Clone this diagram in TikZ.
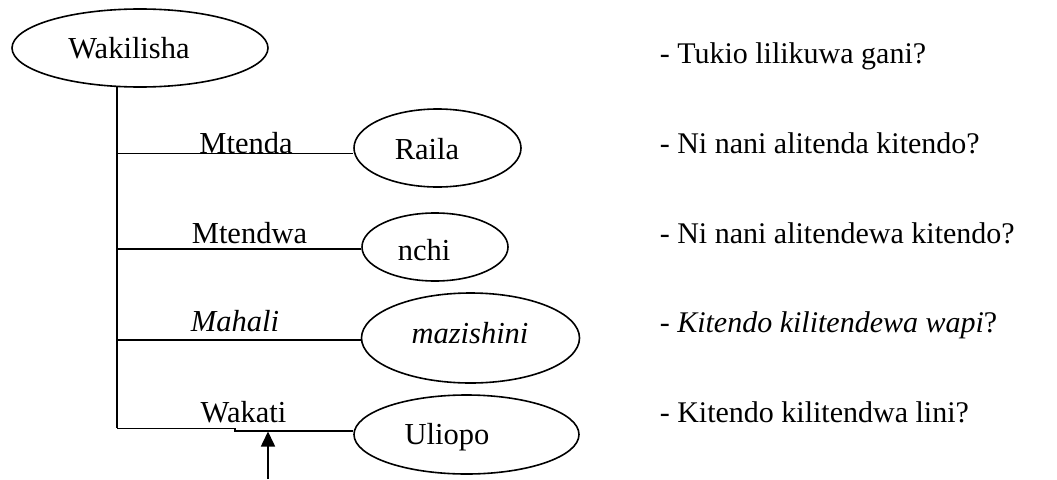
\documentclass[tikz,border=0pt]{standalone}
\usepackage{fontspec}
\setmainfont{Liberation Serif}
\usetikzlibrary{shapes.geometric,arrows.meta}
\begin{document}
\begin{tikzpicture}[x=1pt,y=-1pt,line width=1.6pt,
  ell/.style={draw,ellipse,inner sep=0pt,line width=1.6pt},
  txt/.style={anchor=base,inner sep=0pt,font=\fontsize{30.5}{36}\selectfont},
  qtxt/.style={anchor=base west,inner sep=0pt,font=\fontsize{30}{36}\selectfont},
  conn/.style={line width=1.6pt}]
\useasboundingbox (0,0) rectangle (1057,479);
% ellipses
\node[ell,minimum width=256pt,minimum height=78pt] (wak) at (140,48) {};
\node[ell,minimum width=167pt,minimum height=78pt] (raila) at (437.5,148) {};
\node[ell,minimum width=146pt,minimum height=68pt] (nchi) at (435,247) {};
\node[ell,minimum width=218pt,minimum height=90pt] (maz) at (470.5,338) {};
\node[ell,minimum width=225pt,minimum height=79pt] (uli) at (466.5,434.5) {};
% ellipse texts
\node[txt] (twak) at (129,58) {Wakilisha};
\node[txt] (traila) at (427,159) {Raila};
\node[txt] (tnchi) at (424,260) {nchi};
\node[txt] (tmaz) at (470,343) {\itshape mazishini};
\node[txt] (tuli) at (447,444) {Uliopo};
% connector labels
\node[txt] (lmtenda) at (246,153) {Mtenda};
\node[txt] (lmtendwa) at (249.5,243) {Mtendwa};
\node[txt] (lmahali) at (235,331) {\itshape Mahali};
\node[txt] (lwakati) at (243.5,422) {Wakati};
% questions
\node[qtxt] (q1) at (659,63) {- Tukio lilikuwa gani?};
\node[qtxt] (q2) at (659,153) {- Ni nani alitenda kitendo?};
\node[qtxt] (q3) at (659,243) {- Ni nani alitendewa kitendo?};
\node[qtxt] (q4) at (659,332) {- \textit{Kitendo kilitendewa wapi}?};
\node[qtxt] (q5) at (659,422) {- Kitendo kilitendwa lini?};
% trunk coordinates
\coordinate (t0) at (117,86.5);
\coordinate (t1) at (117,153.5);
\coordinate (t2) at (117,249);
\coordinate (t3) at (117,340);
\coordinate (t4) at (117,428.3);
\coordinate (jog) at (235,428.3);
\coordinate (abot) at (268,479);
\coordinate (atip) at (268,431.5);
% connectors
\draw[conn] (t0) -- (t4);
\draw[conn] (t1) -- (t1 -| raila.west);
\draw[conn] (t2) -- (t2 -| nchi.west);
\draw[conn] (t3) -- (t3 -| maz.west);
\draw[conn] (t4) -- (jog) -- ++(0,2.4) -- (uli.west |- 0,430.7);
\draw[conn,-{Triangle[length=15pt,width=14pt]}] (abot) -- (atip);
\end{tikzpicture}
\end{document}
